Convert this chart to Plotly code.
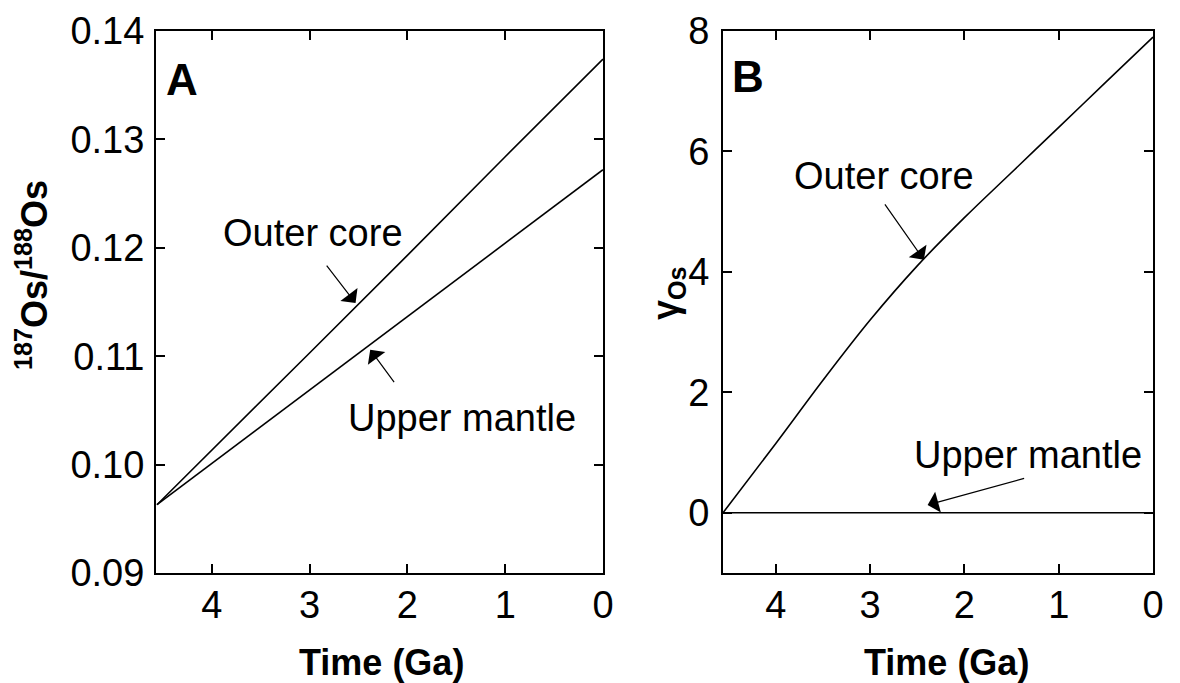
import plotly.graph_objects as go

# ---- data ----
time_a = [4.56, 4.0, 3.0, 2.0, 1.0, 0.0]
outer_core_ratio = [0.0963, 0.1013, 0.1103, 0.1193, 0.1284, 0.1374]
upper_mantle_ratio = [0.0963, 0.1001, 0.1069, 0.1137, 0.1204, 0.1272]

time_b = [4.56, 4.0, 3.5, 3.0, 2.5, 2.0, 1.5, 1.0, 0.5, 0.0]
outer_core_gamma = [0.0, 1.15, 2.2, 3.2, 4.1, 4.9, 5.65, 6.4, 7.15, 7.9]
time_um_b = [4.56, 0.0]
upper_mantle_gamma = [0.0, 0.0]

x_ticks = [4, 3, 2, 1, 0]
y_ticks_a = [0.09, 0.10, 0.11, 0.12, 0.13, 0.14]
y_tick_labels_a = ["0.09", "0.10", "0.11", "0.12", "0.13", "0.14"]
y_ticks_b = [0, 2, 4, 6, 8]

FONT = "Liberation Sans Narrow, Liberation Sans, Arial, sans-serif"
W, H = 1180, 683

fig = go.Figure()
line = dict(color="black", width=1.6)
fig.add_trace(go.Scatter(x=time_a, y=outer_core_ratio, mode="lines", line=line,
                         xaxis="x", yaxis="y", showlegend=False))
fig.add_trace(go.Scatter(x=time_a, y=upper_mantle_ratio, mode="lines", line=line,
                         xaxis="x", yaxis="y", showlegend=False))
fig.add_trace(go.Scatter(x=time_b, y=outer_core_gamma, mode="lines",
                         line=dict(color="black", width=1.6, shape="spline"),
                         xaxis="x2", yaxis="y2", showlegend=False))
fig.add_trace(go.Scatter(x=time_um_b, y=upper_mantle_gamma, mode="lines", line=line,
                         xaxis="x2", yaxis="y2", showlegend=False))

ydom = [(H - 573) / H, (H - 31) / H]
axis_common = dict(showline=True, linecolor="black", linewidth=2, mirror="allticks",
                   ticks="inside", ticklen=9, tickwidth=1.5, tickcolor="black",
                   showgrid=False, zeroline=False, automargin=False,
                   tickfont=dict(family=FONT, size=38, color="black"))

fig.update_layout(
    width=W, height=H,
    margin=dict(l=0, r=0, t=0, b=0, autoexpand=False),
    paper_bgcolor="white", plot_bgcolor="white",
    xaxis=dict(domain=[156 / W, 603 / W], range=[4.57, 0], tickvals=x_ticks,
               anchor="y", ticklabelstandoff=-3, **axis_common),
    yaxis=dict(domain=ydom, range=[0.09, 0.14], tickvals=y_ticks_a,
               ticktext=y_tick_labels_a, anchor="x", ticklabelstandoff=2, **axis_common),
    xaxis2=dict(domain=[723 / W, 1153 / W], range=[4.56, 0], tickvals=x_ticks,
                anchor="y2", ticklabelstandoff=-3, **axis_common),
    yaxis2=dict(domain=ydom, range=[-1, 8], tickvals=y_ticks_b,
                anchor="x2", ticklabelstandoff=4, **axis_common),
)

tfont = dict(family=FONT, size=38, color="black")
bfont = dict(family="Liberation Sans, Arial, sans-serif", size=36, color="black")

arrow = dict(showarrow=True, arrowhead=1, arrowsize=3, arrowwidth=1.2, arrowcolor="black")
center = dict(xanchor="center", yanchor="middle")

ann = []
# panel letters
ann.append(dict(x=4.30, y=0.1355, xref="x", yref="y", text="<b>A</b>", showarrow=False,
                font=dict(family="Liberation Sans, Arial", size=44, color="black"), **center))
ann.append(dict(x=4.29, y=7.24, xref="x2", yref="y2", text="<b>B</b>", showarrow=False,
                font=dict(family="Liberation Sans, Arial", size=44, color="black"), **center))
# panel A labels
ann.append(dict(x=2.97, y=0.1214, xref="x", yref="y", text="Outer core", showarrow=False,
                font=tfont, **center))
ann.append(dict(x=2.53, y=0.1149, xref="x", yref="y", text="", ax=-30, ay=-39, **arrow))
ann.append(dict(x=1.44, y=0.1043, xref="x", yref="y", text="Upper mantle", showarrow=False,
                font=tfont, **center))
ann.append(dict(x=2.38, y=0.1106, xref="x", yref="y", text="", ax=25, ay=34, **arrow))
# panel B labels
ann.append(dict(x=2.85, y=5.59, xref="x2", yref="y2", text="Outer core", showarrow=False,
                font=tfont, **center))
ann.append(dict(x=2.43, y=4.2, xref="x2", yref="y2", text="", ax=-40, ay=-57, **arrow))
ann.append(dict(x=1.33, y=0.96, xref="x2", yref="y2", text="Upper mantle", showarrow=False,
                font=tfont, **center))
ann.append(dict(x=2.39, y=0.13, xref="x2", yref="y2", text="", ax=98, ay=-27, **arrow))
# axis titles
ann.append(dict(x=381 / W, y=(H - 662) / H, xref="paper", yref="paper", text="<b>Time (Ga)</b>",
                showarrow=False, font=bfont, **center))
ann.append(dict(x=947 / W, y=(H - 662) / H, xref="paper", yref="paper", text="<b>Time (Ga)</b>",
                showarrow=False, font=bfont, **center))
ann.append(dict(x=32 / W, y=(H - 275) / H, xref="paper", yref="paper",
                text="<b><sup>187</sup>Os/<sup>188</sup>Os</b>", textangle=-90,
                showarrow=False, font=bfont, **center))
ann.append(dict(x=668 / W, y=(H - 293) / H, xref="paper", yref="paper",
                text="<b>γ<sub>Os</sub></b>", textangle=-90,
                showarrow=False, font=bfont, **center))
fig.update_layout(annotations=ann)

fig.write_html("out.html")
